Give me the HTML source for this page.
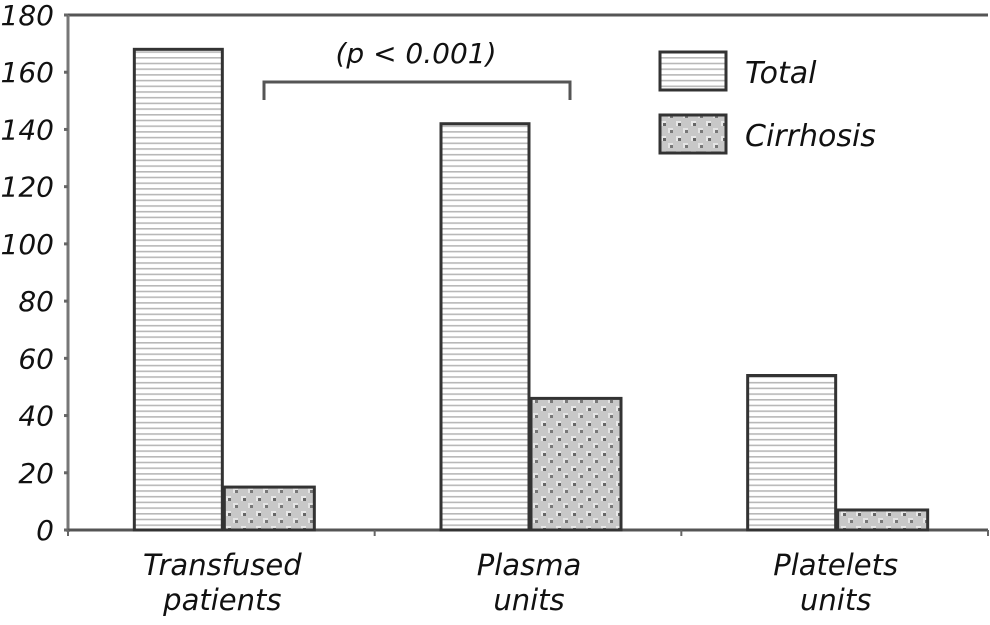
<!DOCTYPE html>
<html><head><meta charset="utf-8"><style>
body{margin:0;background:#fff;}
svg{display:block;font-family:"DejaVu Sans","Liberation Sans",sans-serif;font-style:italic;}
</style></head><body>
<svg id="chart" width="990" height="625">
<defs>
<pattern id="hstripe" width="8" height="5.7" patternUnits="userSpaceOnUse"><rect width="8" height="5.7" fill="#fff"/><rect y="0" width="8" height="1.6" fill="#b8b8b8"/></pattern>
<pattern id="dots" width="15" height="15" patternUnits="userSpaceOnUse"><rect width="15" height="15" fill="#c8c8c8"/><rect x="1" y="1" width="5" height="5" fill="#e8e8e8"/><rect x="8" y="8" width="5" height="5" fill="#e4e4e4"/><rect x="3" y="3" width="3" height="3" fill="#666"/><rect x="10" y="10" width="3" height="3" fill="#777"/></pattern>
</defs>
<g id="axes"></g><g id="bars"></g>
</svg>
<script>
const categories=[["Transfused","patients"],["Plasma","units"],["Platelets","units"]];
const totalValues=[168,142,54];
const cirrhosisValues=[15,46,7];
const yTicks=[0,20,40,60,80,100,120,140,160,180];
const NS="http://www.w3.org/2000/svg";
const X0=68,X1=988,Y0=530,Y1=15;
const y=v=>Y0-(v/180)*(Y0-Y1);
const catW=(X1-X0)/3;
const svg=document.getElementById('chart');
const axes=document.getElementById('axes'),bars=document.getElementById('bars');
function mk(tag,at,parent){const e=document.createElementNS(NS,tag);for(const k in at)e.setAttribute(k,at[k]);parent.appendChild(e);return e;}
let e;
e=mk('line',{x1:X0,y1:Y1,x2:X1,y2:Y1,stroke:'#555','stroke-width':3},axes);

e=mk('line',{x1:X0,y1:Y1,x2:X0,y2:Y0+2,stroke:'#777','stroke-width':3},axes);

e=mk('line',{x1:X0,y1:Y0,x2:X1,y2:Y0,stroke:'#555','stroke-width':3},axes);

yTicks.forEach(t=>{
 e=mk('line',{x1:X0-4,y1:y(t),x2:X0,y2:y(t),stroke:'#666','stroke-width':3},axes);
 
 e=mk('text',{x:54,y:y(t)+10,'text-anchor':'end','font-size':28,fill:'#111'},axes);
 e.textContent=t;
 
});
for(let i=0;i<=3;i++){e=mk('line',{x1:X0+i*catW,y1:Y0,x2:X0+i*catW,y2:Y0+6,stroke:'#666','stroke-width':2},axes);
 }
const bw=88;
categories.forEach((c,i)=>{
 const cx=X0+catW*(i+0.5)+1;
 e=mk('rect',{x:cx-bw,y:y(totalValues[i]),width:bw,height:Y0-y(totalValues[i]),fill:'url(#hstripe)',stroke:'#333','stroke-width':3},bars);
 
 e=mk('rect',{x:cx+2,y:y(cirrhosisValues[i]),width:bw+2,height:Y0-y(cirrhosisValues[i]),fill:'url(#dots)',stroke:'#333','stroke-width':3},bars);
 
 c.forEach((w,j)=>{e=mk('text',{x:cx,y:575+j*35,'text-anchor':'middle','font-size':29,fill:'#111'},axes);e.textContent=w;
  });
});
e=mk('path',{d:'M264,100 V82 H570 V100',fill:'none',stroke:'#555','stroke-width':3},axes);

e=mk('text',{x:416,y:63,'text-anchor':'middle','font-size':28,fill:'#111'},axes);e.textContent='(p < 0.001)';

[['Total','url(#hstripe)',52],['Cirrhosis','url(#dots)',115]].forEach(([n,f,yy])=>{
 e=mk('rect',{x:660,y:yy,width:66,height:38,fill:f,stroke:'#333','stroke-width':3},axes);
 
 e=mk('text',{x:745,y:yy+31,'font-size':30,fill:'#111'},axes);e.textContent=n;
 
});
</script>
</body></html>
